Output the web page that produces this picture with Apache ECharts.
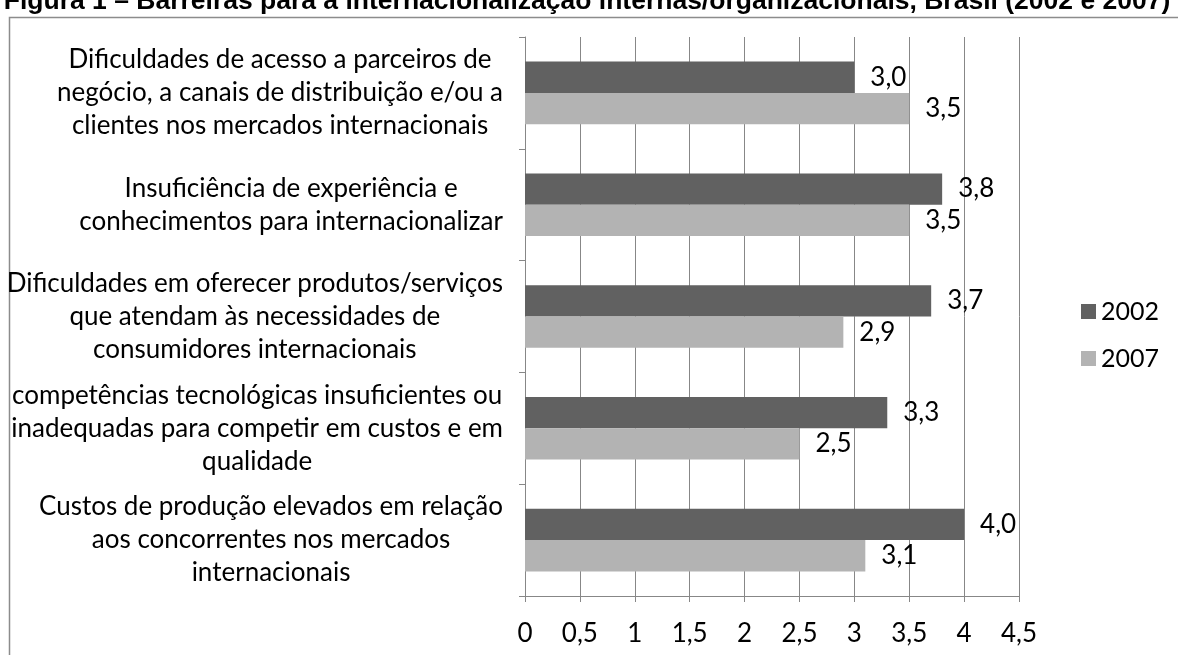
<!DOCTYPE html>
<html><head><meta charset="utf-8">
<script src="https://cdn.jsdelivr.net/npm/echarts@6/dist/echarts.min.js"></script>
<style>html,body{margin:0;padding:0;background:#fff}#c{width:1178px;height:655px}</style>
</head><body><div id="c"></div>
<script>
const titleText = 'Figura 1 – Barreiras para a internacionalização internas/organizacionais, Brasil (2002 e 2007)';
const categories = [
  'Dificuldades de acesso a parceiros de\nnegócio, a canais de distribuição e/ou a\nclientes nos mercados internacionais',
  'Insuficiência de experiência e\nconhecimentos para internacionalizar',
  'Dificuldades em oferecer produtos/serviços\nque atendam às necessidades de\nconsumidores internacionais',
  'competências tecnológicas insuficientes ou\ninadequadas para competir em custos e em\nqualidade',
  'Custos de produção elevados em relação\naos concorrentes nos mercados\ninternacionais'
];
const seriesNames = ['2002', '2007'];
const values2002 = [3.0, 3.8, 3.7, 3.3, 4.0];
const values2007 = [3.5, 3.5, 2.9, 2.5, 3.1];
const xMin = 0, xMax = 4.5, xStep = 0.5;

const FONT = 'Lato';
const FS = 26;
const lineC = '#878787';
const fmt = v => Number(v).toFixed(1).replace('.', ',');

const chart = echarts.init(document.getElementById('c'), null, {renderer: 'canvas'});
chart.setOption({
  animation: false,
  backgroundColor: '#fff',
  graphic: [
    {type: 'rect', silent: true, z: -10, shape: {x: 9.5, y: 17.5, width: 1400, height: 1000},
     style: {fill: 'none', stroke: '#8c8c8c', lineWidth: 1.5}},
    {type: 'text', silent: true, x: 587, y: 15,
     style: {text: titleText, fontSize: 26.5, fontWeight: 'bold', fontFamily: '"Liberation Sans", Arial',
             fill: '#000', align: 'center', verticalAlign: 'bottom'}}
  ],
  legend: {
    orient: 'vertical', left: 1076, top: 294, itemWidth: 15, itemHeight: 15, itemGap: 22,
    icon: 'rect', data: seriesNames,
    textStyle: {fontSize: 25, fontFamily: FONT, color: '#000'}
  },
  grid: {left: 525, right: 159, top: 37, bottom: 59, containLabel: false},
  xAxis: {
    type: 'value', min: xMin, max: xMax, interval: xStep,
    axisLine: {show: true, lineStyle: {color: lineC, width: 1}},
    axisTick: {show: true, length: 6, lineStyle: {color: lineC, width: 1}},
    splitLine: {show: true, lineStyle: {color: lineC, width: 1}},
    axisLabel: {formatter: v => String(v).replace('.', ','), fontSize: FS, fontFamily: FONT, color: '#000', margin: 25}
  },
  yAxis: {
    type: 'category', inverse: true, data: categories,
    axisLine: {show: true, lineStyle: {color: lineC, width: 1}},
    axisTick: {show: true, length: 6, lineStyle: {color: lineC, width: 1}},
    splitLine: {show: false},
    axisLabel: {
      align: 'right', margin: 22,
      formatter: v => v.split('\n').map(l => '{c|' + l + '}').join('\n'),
      rich: {c: {align: 'center', fontSize: FS, lineHeight: 33, fontFamily: FONT, color: '#000'}}
    }
  },
  series: [
    {name: seriesNames[0], type: 'bar', data: values2002, barGap: '0%', barCategoryGap: '44%',
     itemStyle: {color: '#616161'},
     label: {show: true, position: 'right', distance: 16, formatter: p => fmt(p.value),
             fontSize: FS, fontFamily: FONT, color: '#000'}},
    {name: seriesNames[1], type: 'bar', data: values2007, barGap: '0%', barCategoryGap: '44%',
     itemStyle: {color: '#b3b3b3'},
     label: {show: true, position: 'right', distance: 16, formatter: p => fmt(p.value),
             fontSize: FS, fontFamily: FONT, color: '#000'}}
  ]
});
</script></body></html>
